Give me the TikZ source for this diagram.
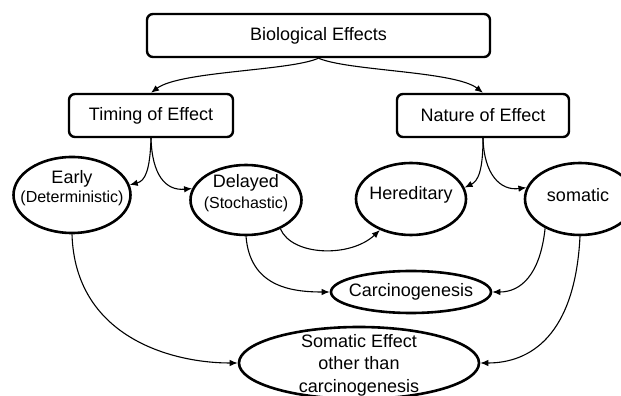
\documentclass[tikz,border=0pt]{standalone}
\usepackage{fontspec}
\setmainfont{Liberation Sans}
\usetikzlibrary{shapes.geometric,arrows.meta}
\begin{document}
\begin{tikzpicture}[x=1pt,y=1pt,
  box/.style={draw,line width=2.4pt,rounded corners=6pt,inner sep=0pt,font=\fontsize{18}{21}\selectfont},
  oval/.style={draw,ellipse,line width=2.6pt,inner sep=0pt},
  lbl/.style={align=center,inner sep=0pt,font=\fontsize{18}{22.5}\selectfont},
  conn/.style={line width=1.1pt,-{Latex[length=8pt,width=6.5pt]}}]
\useasboundingbox (0,0) rectangle (621,396);
\node[box,minimum width=343pt,minimum height=43pt] (bio) at (318.5,360.5) {Biological Effects};
\node[box,minimum width=164pt,minimum height=43pt] (timing) at (151,280.5) {Timing of Effect};
\node[box,minimum width=172pt,minimum height=43pt] (nature) at (483,280.5) {Nature of Effect};
\node[oval,minimum width=117pt,minimum height=76pt] (early) at (72,201) {};
\node[lbl] (earlyt) at (72,208) {Early\\[-3pt]{\fontsize{16}{18}\selectfont (Deterministic)}};
\node[oval,minimum width=111pt,minimum height=70pt] (delayed) at (246,196) {};
\node[lbl] (delayedt) at (246,203) {Delayed\\[-1pt]{\fontsize{16}{18}\selectfont (Stochastic)}};
\node[oval,minimum width=110pt,minimum height=72pt] (hered) at (411,197) {};
\node[lbl] (heredt) at (411,201) {Hereditary};
\node[oval,minimum width=110pt,minimum height=72pt] (somatic) at (580,197) {};
\node[lbl] (somatict) at (578,201) {somatic};
\node[oval,minimum width=160pt,minimum height=42pt] (carc) at (411,104) {};
\node[lbl] (carct) at (411,104) {Carcinogenesis};
\node[oval,minimum width=240pt,minimum height=72pt] (someff) at (359,33) {};
\node[lbl] (someft) at (359,31) {Somatic Effect\\other than\\carcinogenesis};
% connectors
\draw[conn] (bio.south) .. controls (290,325) and (180,325) .. (timing.north);
\draw[conn] (bio.south) .. controls (348,325) and (455,325) .. (nature.north);
\draw[conn] (timing.south) .. controls (150,225) and (145,215) .. (early.10);
\draw[conn] (timing.south) .. controls (152,222) and (165,205) .. (delayed.168);
\draw[conn] (nature.south) .. controls (483,225) and (478,215) .. (hered.12);
\draw[conn] (nature.south) .. controls (484,222) and (500,205) .. (somatic.168);
\draw[conn] (delayed.-40) .. controls (292,140) and (350,138) .. (hered.-135);
\draw[conn] (delayed.south) .. controls (250,110) and (290,104) .. (carc.west);
\draw[conn] (somatic.-140) .. controls (540,120) and (520,104) .. (carc.east);
\draw[conn] (early.south) .. controls (75,60) and (170,33) .. (someff.west);
\draw[conn] (somatic.south) .. controls (575,60) and (530,33) .. (someff.east);
\end{tikzpicture}
\end{document}
